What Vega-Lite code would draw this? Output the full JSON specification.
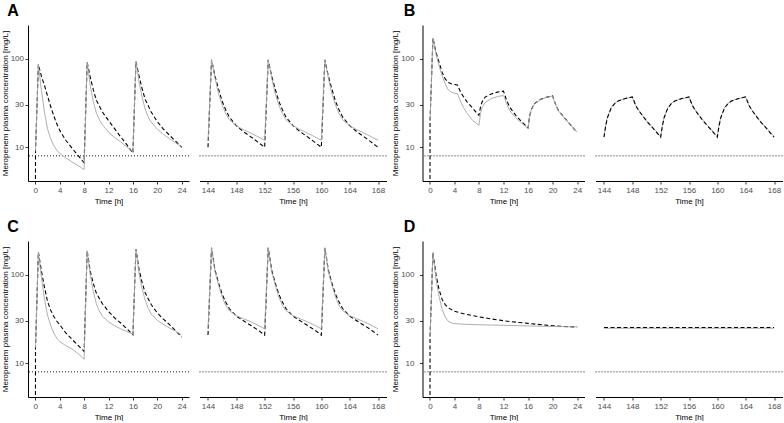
{
"$schema":"https://vega.github.io/schema/vega-lite/v6.json",
"padding":{"left":1,"top":3,"right":0,"bottom":0},
"background":"#ffffff",
"config":{
 "view":{"stroke":null},
 "axis":{"grid":false,"domainColor":"#000000","domainWidth":1,"tickColor":"#333333","tickWidth":1,"tickSize":3,"labelColor":"#4d4d4d","labelFont":"Liberation Sans","labelFontSize":8,"labelPadding":2,"titleFont":"Liberation Sans","titleFontSize":8,"titleFontWeight":"normal","titleColor":"#000000","titlePadding":3},
 "title":{"font":"Liberation Sans","fontSize":16,"fontWeight":"bold","color":"#000000","anchor":"start","frame":"bounds","offset":6}
},
"datasets":{
 "mic":[{"mic":8}],
 "pk":[
{"panel":"A","series":"grey","time":0.03,"conc":9},{"panel":"A","series":"grey","time":0.5,"conc":86},{"panel":"A","series":"grey","time":1,"conc":44},{"panel":"A","series":"grey","time":1.5,"conc":25},{"panel":"A","series":"grey","time":2,"conc":16.2},{"panel":"A","series":"grey","time":2.5,"conc":12.6},{"panel":"A","series":"grey","time":3,"conc":10.5},{"panel":"A","series":"grey","time":3.5,"conc":9.3},{"panel":"A","series":"grey","time":4,"conc":8.5},{"panel":"A","series":"grey","time":5,"conc":7.6},{"panel":"A","series":"grey","time":6,"conc":6.85},{"panel":"A","series":"grey","time":7,"conc":6.2},{"panel":"A","series":"grey","time":8,"conc":5.6},
{"panel":"A","series":"grey","time":8.5,"conc":91},{"panel":"A","series":"grey","time":9,"conc":50},{"panel":"A","series":"grey","time":9.5,"conc":33},{"panel":"A","series":"grey","time":10,"conc":24.5},{"panel":"A","series":"grey","time":10.5,"conc":20.5},{"panel":"A","series":"grey","time":11,"conc":18},{"panel":"A","series":"grey","time":12,"conc":14.8},{"panel":"A","series":"grey","time":13,"conc":12.9},{"panel":"A","series":"grey","time":14,"conc":11.5},{"panel":"A","series":"grey","time":15,"conc":10.1},{"panel":"A","series":"grey","time":16,"conc":8.9},
{"panel":"A","series":"grey","time":16.5,"conc":93},{"panel":"A","series":"grey","time":17,"conc":55},{"panel":"A","series":"grey","time":17.5,"conc":37},{"panel":"A","series":"grey","time":18,"conc":27},{"panel":"A","series":"grey","time":18.5,"conc":22},{"panel":"A","series":"grey","time":19,"conc":19.2},{"panel":"A","series":"grey","time":20,"conc":16},{"panel":"A","series":"grey","time":21,"conc":14},{"panel":"A","series":"grey","time":22,"conc":12.5},{"panel":"A","series":"grey","time":23,"conc":11.2},{"panel":"A","series":"grey","time":24,"conc":10.1},
{"panel":"A","series":"dashed","time":0,"conc":0.01},{"panel":"A","series":"dashed","time":0.03,"conc":9},{"panel":"A","series":"dashed","time":0.5,"conc":86},{"panel":"A","series":"dashed","time":1,"conc":63},{"panel":"A","series":"dashed","time":1.5,"conc":50},{"panel":"A","series":"dashed","time":2,"conc":38},{"panel":"A","series":"dashed","time":2.5,"conc":29},{"panel":"A","series":"dashed","time":3,"conc":23},{"panel":"A","series":"dashed","time":3.5,"conc":18.5},{"panel":"A","series":"dashed","time":4,"conc":15.5},{"panel":"A","series":"dashed","time":5,"conc":12},{"panel":"A","series":"dashed","time":6,"conc":9.8},{"panel":"A","series":"dashed","time":7,"conc":8.1},{"panel":"A","series":"dashed","time":8,"conc":6.7},
{"panel":"A","series":"dashed","time":8.5,"conc":91},{"panel":"A","series":"dashed","time":9,"conc":62},{"panel":"A","series":"dashed","time":9.5,"conc":45},{"panel":"A","series":"dashed","time":10,"conc":34},{"panel":"A","series":"dashed","time":11,"conc":25},{"panel":"A","series":"dashed","time":12,"conc":20},{"panel":"A","series":"dashed","time":13,"conc":16.2},{"panel":"A","series":"dashed","time":14,"conc":13.1},{"panel":"A","series":"dashed","time":15,"conc":10.7},{"panel":"A","series":"dashed","time":16,"conc":8.6},
{"panel":"A","series":"dashed","time":16.5,"conc":93},{"panel":"A","series":"dashed","time":17,"conc":64},{"panel":"A","series":"dashed","time":17.5,"conc":46},{"panel":"A","series":"dashed","time":18,"conc":35},{"panel":"A","series":"dashed","time":19,"conc":25},{"panel":"A","series":"dashed","time":20,"conc":19.5},{"panel":"A","series":"dashed","time":21,"conc":16},{"panel":"A","series":"dashed","time":22,"conc":13.7},{"panel":"A","series":"dashed","time":23,"conc":11.7},{"panel":"A","series":"dashed","time":24,"conc":10},
{"panel":"A","series":"grey","time":144,"conc":11.8},{"panel":"A","series":"grey","time":144.5,"conc":97},{"panel":"A","series":"grey","time":145,"conc":60},{"panel":"A","series":"grey","time":145.5,"conc":40},{"panel":"A","series":"grey","time":146,"conc":30},{"panel":"A","series":"grey","time":146.5,"conc":24},{"panel":"A","series":"grey","time":147,"conc":20.5},{"panel":"A","series":"grey","time":148,"conc":17.5},{"panel":"A","series":"grey","time":149,"conc":15.8},{"panel":"A","series":"grey","time":150,"conc":14.5},{"panel":"A","series":"grey","time":151,"conc":13.2},{"panel":"A","series":"grey","time":152,"conc":12},
{"panel":"A","series":"grey","time":152.5,"conc":97},{"panel":"A","series":"grey","time":153,"conc":60},{"panel":"A","series":"grey","time":153.5,"conc":40},{"panel":"A","series":"grey","time":154,"conc":30},{"panel":"A","series":"grey","time":154.5,"conc":24},{"panel":"A","series":"grey","time":155,"conc":20.5},{"panel":"A","series":"grey","time":156,"conc":17.5},{"panel":"A","series":"grey","time":157,"conc":15.8},{"panel":"A","series":"grey","time":158,"conc":14.5},{"panel":"A","series":"grey","time":159,"conc":13.2},{"panel":"A","series":"grey","time":160,"conc":12},
{"panel":"A","series":"grey","time":160.5,"conc":97},{"panel":"A","series":"grey","time":161,"conc":60},{"panel":"A","series":"grey","time":161.5,"conc":40},{"panel":"A","series":"grey","time":162,"conc":30},{"panel":"A","series":"grey","time":162.5,"conc":24},{"panel":"A","series":"grey","time":163,"conc":20.5},{"panel":"A","series":"grey","time":164,"conc":17.5},{"panel":"A","series":"grey","time":165,"conc":15.8},{"panel":"A","series":"grey","time":166,"conc":14.5},{"panel":"A","series":"grey","time":167,"conc":13.2},{"panel":"A","series":"grey","time":168,"conc":12},
{"panel":"A","series":"dashed","time":144,"conc":10},{"panel":"A","series":"dashed","time":144.5,"conc":97},{"panel":"A","series":"dashed","time":145,"conc":63},{"panel":"A","series":"dashed","time":145.5,"conc":45},{"panel":"A","series":"dashed","time":146,"conc":33},{"panel":"A","series":"dashed","time":146.5,"conc":26.5},{"panel":"A","series":"dashed","time":147,"conc":22},{"panel":"A","series":"dashed","time":148,"conc":17.5},{"panel":"A","series":"dashed","time":149,"conc":15},{"panel":"A","series":"dashed","time":150,"conc":13.2},{"panel":"A","series":"dashed","time":151,"conc":11.5},{"panel":"A","series":"dashed","time":152,"conc":10},
{"panel":"A","series":"dashed","time":152.5,"conc":97},{"panel":"A","series":"dashed","time":153,"conc":63},{"panel":"A","series":"dashed","time":153.5,"conc":45},{"panel":"A","series":"dashed","time":154,"conc":33},{"panel":"A","series":"dashed","time":154.5,"conc":26.5},{"panel":"A","series":"dashed","time":155,"conc":22},{"panel":"A","series":"dashed","time":156,"conc":17.5},{"panel":"A","series":"dashed","time":157,"conc":15},{"panel":"A","series":"dashed","time":158,"conc":13.2},{"panel":"A","series":"dashed","time":159,"conc":11.5},{"panel":"A","series":"dashed","time":160,"conc":10},
{"panel":"A","series":"dashed","time":160.5,"conc":97},{"panel":"A","series":"dashed","time":161,"conc":63},{"panel":"A","series":"dashed","time":161.5,"conc":45},{"panel":"A","series":"dashed","time":162,"conc":33},{"panel":"A","series":"dashed","time":162.5,"conc":26.5},{"panel":"A","series":"dashed","time":163,"conc":22},{"panel":"A","series":"dashed","time":164,"conc":17.5},{"panel":"A","series":"dashed","time":165,"conc":15},{"panel":"A","series":"dashed","time":166,"conc":13.2},{"panel":"A","series":"dashed","time":167,"conc":11.5},{"panel":"A","series":"dashed","time":168,"conc":10},

{"panel":"B","series":"grey","time":0.03,"conc":20},{"panel":"B","series":"grey","time":0.5,"conc":171},{"panel":"B","series":"grey","time":1,"conc":113},{"panel":"B","series":"grey","time":1.5,"conc":83},{"panel":"B","series":"grey","time":2,"conc":64},{"panel":"B","series":"grey","time":2.5,"conc":52},{"panel":"B","series":"grey","time":3,"conc":44.5},{"panel":"B","series":"grey","time":3.5,"conc":41.9},{"panel":"B","series":"grey","time":4,"conc":40.8},{"panel":"B","series":"grey","time":4.5,"conc":40.5},{"panel":"B","series":"grey","time":5,"conc":33},{"panel":"B","series":"grey","time":5.5,"conc":28},{"panel":"B","series":"grey","time":6,"conc":24.5},{"panel":"B","series":"grey","time":7,"conc":20},{"panel":"B","series":"grey","time":8,"conc":17.7},
{"panel":"B","series":"grey","time":8.25,"conc":24},{"panel":"B","series":"grey","time":8.5,"conc":28},{"panel":"B","series":"grey","time":9,"conc":32},{"panel":"B","series":"grey","time":10,"conc":35.5},{"panel":"B","series":"grey","time":11,"conc":37.3},{"panel":"B","series":"grey","time":12,"conc":38.5},{"panel":"B","series":"grey","time":12.5,"conc":31},{"panel":"B","series":"grey","time":13,"conc":26},{"panel":"B","series":"grey","time":14,"conc":21.5},{"panel":"B","series":"grey","time":15,"conc":18.6},{"panel":"B","series":"grey","time":16,"conc":16.2},
{"panel":"B","series":"grey","time":16.25,"conc":22},{"panel":"B","series":"grey","time":16.5,"conc":26},{"panel":"B","series":"grey","time":17,"conc":30.5},{"panel":"B","series":"grey","time":18,"conc":34.5},{"panel":"B","series":"grey","time":19,"conc":36.5},{"panel":"B","series":"grey","time":20,"conc":37.8},{"panel":"B","series":"grey","time":20.5,"conc":30},{"panel":"B","series":"grey","time":21,"conc":25.5},{"panel":"B","series":"grey","time":22,"conc":21},{"panel":"B","series":"grey","time":23,"conc":17.6},{"panel":"B","series":"grey","time":24,"conc":14.8},
{"panel":"B","series":"dashed","time":0,"conc":0.01},{"panel":"B","series":"dashed","time":0.03,"conc":20},{"panel":"B","series":"dashed","time":0.5,"conc":171},{"panel":"B","series":"dashed","time":1,"conc":118},{"panel":"B","series":"dashed","time":1.5,"conc":91},{"panel":"B","series":"dashed","time":2,"conc":70},{"panel":"B","series":"dashed","time":2.5,"conc":59},{"panel":"B","series":"dashed","time":3,"conc":54},{"panel":"B","series":"dashed","time":3.5,"conc":52},{"panel":"B","series":"dashed","time":4,"conc":51},{"panel":"B","series":"dashed","time":4.5,"conc":50.5},{"panel":"B","series":"dashed","time":5,"conc":42},{"panel":"B","series":"dashed","time":5.5,"conc":37},{"panel":"B","series":"dashed","time":6,"conc":33},{"panel":"B","series":"dashed","time":7,"conc":27.5},{"panel":"B","series":"dashed","time":8,"conc":22.9},
{"panel":"B","series":"dashed","time":8.25,"conc":28.5},{"panel":"B","series":"dashed","time":8.5,"conc":32.4},{"panel":"B","series":"dashed","time":9,"conc":36.8},{"panel":"B","series":"dashed","time":10,"conc":40},{"panel":"B","series":"dashed","time":11,"conc":41.9},{"panel":"B","series":"dashed","time":12,"conc":43},{"panel":"B","series":"dashed","time":12.5,"conc":34},{"panel":"B","series":"dashed","time":13,"conc":28.4},{"panel":"B","series":"dashed","time":14,"conc":22.9},{"panel":"B","series":"dashed","time":15,"conc":19.3},{"panel":"B","series":"dashed","time":16,"conc":16.6},
{"panel":"B","series":"dashed","time":16.25,"conc":22.3},{"panel":"B","series":"dashed","time":16.5,"conc":26.3},{"panel":"B","series":"dashed","time":17,"conc":30.8},{"panel":"B","series":"dashed","time":18,"conc":34.7},{"panel":"B","series":"dashed","time":19,"conc":36.7},{"panel":"B","series":"dashed","time":20,"conc":38},{"panel":"B","series":"dashed","time":20.5,"conc":30.3},{"panel":"B","series":"dashed","time":21,"conc":25.7},{"panel":"B","series":"dashed","time":22,"conc":21.2},{"panel":"B","series":"dashed","time":23,"conc":17.7},{"panel":"B","series":"dashed","time":24,"conc":14.6},
{"panel":"B","series":"grey","time":144,"conc":13.3},{"panel":"B","series":"grey","time":144.25,"conc":18},{"panel":"B","series":"grey","time":144.5,"conc":22},{"panel":"B","series":"grey","time":145,"conc":27.9},{"panel":"B","series":"grey","time":145.5,"conc":31.2},{"panel":"B","series":"grey","time":146,"conc":33.4},{"panel":"B","series":"grey","time":147,"conc":35.4},{"panel":"B","series":"grey","time":148,"conc":36.8},{"panel":"B","series":"grey","time":148.5,"conc":29.5},{"panel":"B","series":"grey","time":149,"conc":25.5},{"panel":"B","series":"grey","time":150,"conc":20},{"panel":"B","series":"grey","time":151,"conc":16.3},{"panel":"B","series":"grey","time":152,"conc":13.3},
{"panel":"B","series":"grey","time":152.25,"conc":18},{"panel":"B","series":"grey","time":152.5,"conc":22},{"panel":"B","series":"grey","time":153,"conc":27.9},{"panel":"B","series":"grey","time":153.5,"conc":31.2},{"panel":"B","series":"grey","time":154,"conc":33.4},{"panel":"B","series":"grey","time":155,"conc":35.4},{"panel":"B","series":"grey","time":156,"conc":36.8},{"panel":"B","series":"grey","time":156.5,"conc":29.5},{"panel":"B","series":"grey","time":157,"conc":25.5},{"panel":"B","series":"grey","time":158,"conc":20},{"panel":"B","series":"grey","time":159,"conc":16.3},{"panel":"B","series":"grey","time":160,"conc":13.3},
{"panel":"B","series":"grey","time":160.25,"conc":18},{"panel":"B","series":"grey","time":160.5,"conc":22},{"panel":"B","series":"grey","time":161,"conc":27.9},{"panel":"B","series":"grey","time":161.5,"conc":31.2},{"panel":"B","series":"grey","time":162,"conc":33.4},{"panel":"B","series":"grey","time":163,"conc":35.4},{"panel":"B","series":"grey","time":164,"conc":36.8},{"panel":"B","series":"grey","time":164.5,"conc":29.5},{"panel":"B","series":"grey","time":165,"conc":25.5},{"panel":"B","series":"grey","time":166,"conc":20},{"panel":"B","series":"grey","time":167,"conc":16.3},{"panel":"B","series":"grey","time":168,"conc":13.3},
{"panel":"B","series":"dashed","time":144,"conc":13},{"panel":"B","series":"dashed","time":144.25,"conc":17.6},{"panel":"B","series":"dashed","time":144.5,"conc":21.7},{"panel":"B","series":"dashed","time":145,"conc":27.6},{"panel":"B","series":"dashed","time":145.5,"conc":31},{"panel":"B","series":"dashed","time":146,"conc":33.3},{"panel":"B","series":"dashed","time":147,"conc":35.5},{"panel":"B","series":"dashed","time":148,"conc":37},{"panel":"B","series":"dashed","time":148.5,"conc":29.3},{"panel":"B","series":"dashed","time":149,"conc":25.3},{"panel":"B","series":"dashed","time":150,"conc":19.8},{"panel":"B","series":"dashed","time":151,"conc":16.1},{"panel":"B","series":"dashed","time":152,"conc":13},
{"panel":"B","series":"dashed","time":152.25,"conc":17.6},{"panel":"B","series":"dashed","time":152.5,"conc":21.7},{"panel":"B","series":"dashed","time":153,"conc":27.6},{"panel":"B","series":"dashed","time":153.5,"conc":31},{"panel":"B","series":"dashed","time":154,"conc":33.3},{"panel":"B","series":"dashed","time":155,"conc":35.5},{"panel":"B","series":"dashed","time":156,"conc":37},{"panel":"B","series":"dashed","time":156.5,"conc":29.3},{"panel":"B","series":"dashed","time":157,"conc":25.3},{"panel":"B","series":"dashed","time":158,"conc":19.8},{"panel":"B","series":"dashed","time":159,"conc":16.1},{"panel":"B","series":"dashed","time":160,"conc":13},
{"panel":"B","series":"dashed","time":160.25,"conc":17.6},{"panel":"B","series":"dashed","time":160.5,"conc":21.7},{"panel":"B","series":"dashed","time":161,"conc":27.6},{"panel":"B","series":"dashed","time":161.5,"conc":31},{"panel":"B","series":"dashed","time":162,"conc":33.3},{"panel":"B","series":"dashed","time":163,"conc":35.5},{"panel":"B","series":"dashed","time":164,"conc":37},{"panel":"B","series":"dashed","time":164.5,"conc":29.3},{"panel":"B","series":"dashed","time":165,"conc":25.3},{"panel":"B","series":"dashed","time":166,"conc":19.8},{"panel":"B","series":"dashed","time":167,"conc":16.1},{"panel":"B","series":"dashed","time":168,"conc":13},

{"panel":"C","series":"grey","time":0.03,"conc":15},{"panel":"C","series":"grey","time":0.5,"conc":180},{"panel":"C","series":"grey","time":1,"conc":93},{"panel":"C","series":"grey","time":1.5,"conc":53},{"panel":"C","series":"grey","time":2,"conc":35},{"panel":"C","series":"grey","time":2.5,"conc":27},{"panel":"C","series":"grey","time":3,"conc":22},{"panel":"C","series":"grey","time":3.5,"conc":19.3},{"panel":"C","series":"grey","time":4,"conc":17.6},{"panel":"C","series":"grey","time":5,"conc":15.8},{"panel":"C","series":"grey","time":6,"conc":14.5},{"panel":"C","series":"grey","time":7,"conc":12.9},{"panel":"C","series":"grey","time":8,"conc":11.1},
{"panel":"C","series":"grey","time":8.5,"conc":186},{"panel":"C","series":"grey","time":9,"conc":100},{"panel":"C","series":"grey","time":9.5,"conc":65},{"panel":"C","series":"grey","time":10,"conc":47},{"panel":"C","series":"grey","time":10.5,"conc":39},{"panel":"C","series":"grey","time":11,"conc":34},{"panel":"C","series":"grey","time":12,"conc":29.3},{"panel":"C","series":"grey","time":13,"conc":26.5},{"panel":"C","series":"grey","time":14,"conc":24.5},{"panel":"C","series":"grey","time":15,"conc":22.8},{"panel":"C","series":"grey","time":16,"conc":21.3},
{"panel":"C","series":"grey","time":16.5,"conc":194},{"panel":"C","series":"grey","time":17,"conc":104},{"panel":"C","series":"grey","time":17.5,"conc":70},{"panel":"C","series":"grey","time":18,"conc":52},{"panel":"C","series":"grey","time":18.5,"conc":42},{"panel":"C","series":"grey","time":19,"conc":36},{"panel":"C","series":"grey","time":20,"conc":30.5},{"panel":"C","series":"grey","time":21,"conc":27.5},{"panel":"C","series":"grey","time":22,"conc":25},{"panel":"C","series":"grey","time":23,"conc":23},{"panel":"C","series":"grey","time":24,"conc":20.8},
{"panel":"C","series":"dashed","time":0,"conc":0.01},{"panel":"C","series":"dashed","time":0.03,"conc":15},{"panel":"C","series":"dashed","time":0.5,"conc":180},{"panel":"C","series":"dashed","time":1,"conc":110},{"panel":"C","series":"dashed","time":1.5,"conc":72},{"panel":"C","series":"dashed","time":2,"conc":50},{"panel":"C","series":"dashed","time":2.5,"conc":40},{"panel":"C","series":"dashed","time":3,"conc":34},{"panel":"C","series":"dashed","time":3.5,"conc":30},{"panel":"C","series":"dashed","time":4,"conc":27.3},{"panel":"C","series":"dashed","time":5,"conc":22},{"panel":"C","series":"dashed","time":6,"conc":18.7},{"panel":"C","series":"dashed","time":7,"conc":15.9},{"panel":"C","series":"dashed","time":8,"conc":13.6},
{"panel":"C","series":"dashed","time":8.5,"conc":186},{"panel":"C","series":"dashed","time":9,"conc":110},{"panel":"C","series":"dashed","time":9.5,"conc":80},{"panel":"C","series":"dashed","time":10,"conc":62},{"panel":"C","series":"dashed","time":11,"conc":47},{"panel":"C","series":"dashed","time":12,"conc":38.5},{"panel":"C","series":"dashed","time":13,"conc":32.5},{"panel":"C","series":"dashed","time":14,"conc":28.5},{"panel":"C","series":"dashed","time":15,"conc":24.6},{"panel":"C","series":"dashed","time":16,"conc":21},
{"panel":"C","series":"dashed","time":16.5,"conc":194},{"panel":"C","series":"dashed","time":17,"conc":115},{"panel":"C","series":"dashed","time":17.5,"conc":82},{"panel":"C","series":"dashed","time":18,"conc":63},{"panel":"C","series":"dashed","time":19,"conc":46},{"panel":"C","series":"dashed","time":20,"conc":37},{"panel":"C","series":"dashed","time":21,"conc":31.5},{"panel":"C","series":"dashed","time":22,"conc":27.3},{"panel":"C","series":"dashed","time":23,"conc":23.3},{"panel":"C","series":"dashed","time":24,"conc":19.7},
{"panel":"C","series":"grey","time":144,"conc":24.5},{"panel":"C","series":"grey","time":144.5,"conc":201},{"panel":"C","series":"grey","time":145,"conc":107},{"panel":"C","series":"grey","time":145.5,"conc":76},{"panel":"C","series":"grey","time":146,"conc":56},{"panel":"C","series":"grey","time":146.5,"conc":45},{"panel":"C","series":"grey","time":147,"conc":39.3},{"panel":"C","series":"grey","time":148,"conc":34.5},{"panel":"C","series":"grey","time":149,"conc":31.8},{"panel":"C","series":"grey","time":150,"conc":29.5},{"panel":"C","series":"grey","time":151,"conc":27},{"panel":"C","series":"grey","time":152,"conc":24.5},
{"panel":"C","series":"grey","time":152.5,"conc":201},{"panel":"C","series":"grey","time":153,"conc":107},{"panel":"C","series":"grey","time":153.5,"conc":76},{"panel":"C","series":"grey","time":154,"conc":56},{"panel":"C","series":"grey","time":154.5,"conc":45},{"panel":"C","series":"grey","time":155,"conc":39.3},{"panel":"C","series":"grey","time":156,"conc":34.5},{"panel":"C","series":"grey","time":157,"conc":31.8},{"panel":"C","series":"grey","time":158,"conc":29.5},{"panel":"C","series":"grey","time":159,"conc":27},{"panel":"C","series":"grey","time":160,"conc":24.5},
{"panel":"C","series":"grey","time":160.5,"conc":201},{"panel":"C","series":"grey","time":161,"conc":107},{"panel":"C","series":"grey","time":161.5,"conc":76},{"panel":"C","series":"grey","time":162,"conc":56},{"panel":"C","series":"grey","time":162.5,"conc":45},{"panel":"C","series":"grey","time":163,"conc":39.3},{"panel":"C","series":"grey","time":164,"conc":34.5},{"panel":"C","series":"grey","time":165,"conc":31.8},{"panel":"C","series":"grey","time":166,"conc":29.5},{"panel":"C","series":"grey","time":167,"conc":27},{"panel":"C","series":"grey","time":168,"conc":24.5},
{"panel":"C","series":"dashed","time":144,"conc":20.8},{"panel":"C","series":"dashed","time":144.5,"conc":201},{"panel":"C","series":"dashed","time":145,"conc":112},{"panel":"C","series":"dashed","time":145.5,"conc":80},{"panel":"C","series":"dashed","time":146,"conc":60},{"panel":"C","series":"dashed","time":146.5,"conc":49},{"panel":"C","series":"dashed","time":147,"conc":41.5},{"panel":"C","series":"dashed","time":148,"conc":34},{"panel":"C","series":"dashed","time":149,"conc":30.2},{"panel":"C","series":"dashed","time":150,"conc":26.9},{"panel":"C","series":"dashed","time":151,"conc":23.9},{"panel":"C","series":"dashed","time":152,"conc":20.8},
{"panel":"C","series":"dashed","time":152.5,"conc":201},{"panel":"C","series":"dashed","time":153,"conc":112},{"panel":"C","series":"dashed","time":153.5,"conc":80},{"panel":"C","series":"dashed","time":154,"conc":60},{"panel":"C","series":"dashed","time":154.5,"conc":49},{"panel":"C","series":"dashed","time":155,"conc":41.5},{"panel":"C","series":"dashed","time":156,"conc":34},{"panel":"C","series":"dashed","time":157,"conc":30.2},{"panel":"C","series":"dashed","time":158,"conc":26.9},{"panel":"C","series":"dashed","time":159,"conc":23.9},{"panel":"C","series":"dashed","time":160,"conc":20.8},
{"panel":"C","series":"dashed","time":160.5,"conc":201},{"panel":"C","series":"dashed","time":161,"conc":112},{"panel":"C","series":"dashed","time":161.5,"conc":80},{"panel":"C","series":"dashed","time":162,"conc":60},{"panel":"C","series":"dashed","time":162.5,"conc":49},{"panel":"C","series":"dashed","time":163,"conc":41.5},{"panel":"C","series":"dashed","time":164,"conc":34},{"panel":"C","series":"dashed","time":165,"conc":30.2},{"panel":"C","series":"dashed","time":166,"conc":26.9},{"panel":"C","series":"dashed","time":167,"conc":23.9},{"panel":"C","series":"dashed","time":168,"conc":20.8},

{"panel":"D","series":"grey","time":0.03,"conc":20},{"panel":"D","series":"grey","time":0.5,"conc":178},{"panel":"D","series":"grey","time":1,"conc":88.5},{"panel":"D","series":"grey","time":1.5,"conc":57},{"panel":"D","series":"grey","time":2,"conc":40.4},{"panel":"D","series":"grey","time":2.5,"conc":33.4},{"panel":"D","series":"grey","time":3,"conc":29.7},{"panel":"D","series":"grey","time":3.5,"conc":28.6},{"panel":"D","series":"grey","time":4,"conc":28},{"panel":"D","series":"grey","time":6,"conc":27.5},{"panel":"D","series":"grey","time":8,"conc":27.2},{"panel":"D","series":"grey","time":12,"conc":26.8},{"panel":"D","series":"grey","time":16,"conc":26.4},{"panel":"D","series":"grey","time":20,"conc":26},{"panel":"D","series":"grey","time":24,"conc":25.7},
{"panel":"D","series":"dashed","time":0,"conc":0.01},{"panel":"D","series":"dashed","time":0.03,"conc":20},{"panel":"D","series":"dashed","time":0.5,"conc":178},{"panel":"D","series":"dashed","time":1,"conc":100},{"panel":"D","series":"dashed","time":1.5,"conc":68},{"panel":"D","series":"dashed","time":2,"conc":52.5},{"panel":"D","series":"dashed","time":2.5,"conc":46},{"panel":"D","series":"dashed","time":3,"conc":42.2},{"panel":"D","series":"dashed","time":4,"conc":38.6},{"panel":"D","series":"dashed","time":5,"conc":37},{"panel":"D","series":"dashed","time":6,"conc":35.5},{"panel":"D","series":"dashed","time":8,"conc":33.4},{"panel":"D","series":"dashed","time":10,"conc":31.7},{"panel":"D","series":"dashed","time":12,"conc":30.2},{"panel":"D","series":"dashed","time":14,"conc":29.1},{"panel":"D","series":"dashed","time":16,"conc":28.2},{"panel":"D","series":"dashed","time":18,"conc":27.3},{"panel":"D","series":"dashed","time":20,"conc":26.5},{"panel":"D","series":"dashed","time":22,"conc":26},{"panel":"D","series":"dashed","time":24,"conc":25.7},
{"panel":"D","series":"grey","time":144,"conc":24.8},{"panel":"D","series":"grey","time":168,"conc":24.8},
{"panel":"D","series":"dashed","time":144,"conc":25.3},{"panel":"D","series":"dashed","time":168,"conc":25.3}
 ]
},
"vconcat":[
 {"hconcat":[
  {"title":{"text":"A","dx":6},"spacing":8.5,"hconcat":[
   {"width":161,"height":156,"layer":[
    {"data":{"name":"mic"},"mark":{"type":"rule","color":"#000000","strokeWidth":0.9,"strokeDash":[1,2]},"encoding":{"y":{"field":"mic","type":"quantitative","scale":{"type":"log","domain":[4.16,240],"nice":false},"axis":{"values":[10,30,100],"format":"d","title":"Meropenem plasma concentration [mg/L]","labelPadding":1.5,"titlePadding":1}}}},
    {"data":{"name":"pk"},"transform":[{"filter":"datum.panel==='A' && datum.series==='dashed' && datum.time<=24"}],"mark":{"type":"line","color":"#000000","strokeWidth":1.1,"strokeDash":[4,2.5],"clip":true},"encoding":{"x":{"field":"time","type":"quantitative","scale":{"domain":[-1.2,25.2],"nice":false,"zero":false},"axis":{"values":[0,4,8,12,16,20,24],"title":"Time [h]"}},"y":{"field":"conc","type":"quantitative","scale":{"type":"log","domain":[4.16,240],"nice":false},"axis":{"values":[10,30,100],"format":"d","title":"Meropenem plasma concentration [mg/L]","labelPadding":1.5,"titlePadding":1}}}},
    {"data":{"name":"pk"},"transform":[{"filter":"datum.panel==='A' && datum.series==='grey' && datum.time<=24"}],"mark":{"type":"line","color":"#a6a6a6","strokeWidth":0.9,"clip":true},"encoding":{"x":{"field":"time","type":"quantitative","scale":{"domain":[-1.2,25.2],"nice":false,"zero":false},"axis":{"values":[0,4,8,12,16,20,24],"title":"Time [h]"}},"y":{"field":"conc","type":"quantitative","scale":{"type":"log","domain":[4.16,240],"nice":false},"axis":{"values":[10,30,100],"format":"d","title":"Meropenem plasma concentration [mg/L]","labelPadding":1.5,"titlePadding":1}}}}
   ]},
   {"width":187,"height":156,"layer":[
    {"data":{"name":"mic"},"mark":{"type":"rule","color":"#000000","strokeWidth":0.9,"strokeDash":[1,2]},"encoding":{"y":{"field":"mic","type":"quantitative","scale":{"type":"log","domain":[4.16,240],"nice":false},"axis":null}}},
    {"data":{"name":"pk"},"transform":[{"filter":"datum.panel==='A' && datum.series==='dashed' && datum.time>=144"}],"mark":{"type":"line","color":"#000000","strokeWidth":1.1,"strokeDash":[4,2.5],"clip":true},"encoding":{"x":{"field":"time","type":"quantitative","scale":{"domain":[142.8,169.2],"nice":false,"zero":false},"axis":{"values":[144,148,152,156,160,164,168],"title":"Time [h]"}},"y":{"field":"conc","type":"quantitative","scale":{"type":"log","domain":[4.16,240],"nice":false},"axis":null}}},
    {"data":{"name":"pk"},"transform":[{"filter":"datum.panel==='A' && datum.series==='grey' && datum.time>=144"}],"mark":{"type":"line","color":"#a6a6a6","strokeWidth":0.9,"clip":true},"encoding":{"x":{"field":"time","type":"quantitative","scale":{"domain":[142.8,169.2],"nice":false,"zero":false},"axis":{"values":[144,148,152,156,160,164,168],"title":"Time [h]"}},"y":{"field":"conc","type":"quantitative","scale":{"type":"log","domain":[4.16,240],"nice":false},"axis":null}}}
   ]}
  ]},
  {"title":{"text":"B","dx":12},"spacing":9,"hconcat":[
   {"width":162,"height":156,"layer":[
    {"data":{"name":"mic"},"mark":{"type":"rule","color":"#000000","strokeWidth":0.9,"strokeDash":[1,2]},"encoding":{"y":{"field":"mic","type":"quantitative","scale":{"type":"log","domain":[4.16,240],"nice":false},"axis":{"values":[10,30,100],"format":"d","title":"Meropenem plasma concentration [mg/L]","labelPadding":5.5,"titlePadding":1}}}},
    {"data":{"name":"pk"},"transform":[{"filter":"datum.panel==='B' && datum.series==='dashed' && datum.time<=24"}],"mark":{"type":"line","color":"#000000","strokeWidth":1.1,"strokeDash":[4,2.5],"clip":true},"encoding":{"x":{"field":"time","type":"quantitative","scale":{"domain":[-1.2,25.2],"nice":false,"zero":false},"axis":{"values":[0,4,8,12,16,20,24],"title":"Time [h]"}},"y":{"field":"conc","type":"quantitative","scale":{"type":"log","domain":[4.16,240],"nice":false},"axis":{"values":[10,30,100],"format":"d","title":"Meropenem plasma concentration [mg/L]","labelPadding":5.5,"titlePadding":1}}}},
    {"data":{"name":"pk"},"transform":[{"filter":"datum.panel==='B' && datum.series==='grey' && datum.time<=24"}],"mark":{"type":"line","color":"#a6a6a6","strokeWidth":0.9,"clip":true},"encoding":{"x":{"field":"time","type":"quantitative","scale":{"domain":[-1.2,25.2],"nice":false,"zero":false},"axis":{"values":[0,4,8,12,16,20,24],"title":"Time [h]"}},"y":{"field":"conc","type":"quantitative","scale":{"type":"log","domain":[4.16,240],"nice":false},"axis":{"values":[10,30,100],"format":"d","title":"Meropenem plasma concentration [mg/L]","labelPadding":5.5,"titlePadding":1}}}}
   ]},
   {"width":187,"height":156,"layer":[
    {"data":{"name":"mic"},"mark":{"type":"rule","color":"#000000","strokeWidth":0.9,"strokeDash":[1,2]},"encoding":{"y":{"field":"mic","type":"quantitative","scale":{"type":"log","domain":[4.16,240],"nice":false},"axis":null}}},
    {"data":{"name":"pk"},"transform":[{"filter":"datum.panel==='B' && datum.series==='grey' && datum.time>=144"}],"mark":{"type":"line","color":"#a6a6a6","strokeWidth":0.9,"clip":true},"encoding":{"x":{"field":"time","type":"quantitative","scale":{"domain":[142.8,169.2],"nice":false,"zero":false},"axis":{"values":[144,148,152,156,160,164,168],"title":"Time [h]"}},"y":{"field":"conc","type":"quantitative","scale":{"type":"log","domain":[4.16,240],"nice":false},"axis":null}}},
    {"data":{"name":"pk"},"transform":[{"filter":"datum.panel==='B' && datum.series==='dashed' && datum.time>=144"}],"mark":{"type":"line","color":"#000000","strokeWidth":1.1,"strokeDash":[4,2.5],"clip":true},"encoding":{"x":{"field":"time","type":"quantitative","scale":{"domain":[142.8,169.2],"nice":false,"zero":false},"axis":{"values":[144,148,152,156,160,164,168],"title":"Time [h]"}},"y":{"field":"conc","type":"quantitative","scale":{"type":"log","domain":[4.16,240],"nice":false},"axis":null}}}
   ]}
  ]}
 ],"spacing":4.5},
 {"hconcat":[
  {"title":{"text":"C","dx":6},"spacing":8.5,"hconcat":[
   {"width":161,"height":156,"layer":[
    {"data":{"name":"mic"},"mark":{"type":"rule","color":"#000000","strokeWidth":0.9,"strokeDash":[1,2]},"encoding":{"y":{"field":"mic","type":"quantitative","scale":{"type":"log","domain":[4.16,240],"nice":false},"axis":{"values":[10,30,100],"format":"d","title":"Meropenem plasma concentration [mg/L]","labelPadding":1.5,"titlePadding":1}}}},
    {"data":{"name":"pk"},"transform":[{"filter":"datum.panel==='C' && datum.series==='dashed' && datum.time<=24"}],"mark":{"type":"line","color":"#000000","strokeWidth":1.1,"strokeDash":[4,2.5],"clip":true},"encoding":{"x":{"field":"time","type":"quantitative","scale":{"domain":[-1.2,25.2],"nice":false,"zero":false},"axis":{"values":[0,4,8,12,16,20,24],"title":"Time [h]"}},"y":{"field":"conc","type":"quantitative","scale":{"type":"log","domain":[4.16,240],"nice":false},"axis":{"values":[10,30,100],"format":"d","title":"Meropenem plasma concentration [mg/L]","labelPadding":1.5,"titlePadding":1}}}},
    {"data":{"name":"pk"},"transform":[{"filter":"datum.panel==='C' && datum.series==='grey' && datum.time<=24"}],"mark":{"type":"line","color":"#a6a6a6","strokeWidth":0.9,"clip":true},"encoding":{"x":{"field":"time","type":"quantitative","scale":{"domain":[-1.2,25.2],"nice":false,"zero":false},"axis":{"values":[0,4,8,12,16,20,24],"title":"Time [h]"}},"y":{"field":"conc","type":"quantitative","scale":{"type":"log","domain":[4.16,240],"nice":false},"axis":{"values":[10,30,100],"format":"d","title":"Meropenem plasma concentration [mg/L]","labelPadding":1.5,"titlePadding":1}}}}
   ]},
   {"width":187,"height":156,"layer":[
    {"data":{"name":"mic"},"mark":{"type":"rule","color":"#000000","strokeWidth":0.9,"strokeDash":[1,2]},"encoding":{"y":{"field":"mic","type":"quantitative","scale":{"type":"log","domain":[4.16,240],"nice":false},"axis":null}}},
    {"data":{"name":"pk"},"transform":[{"filter":"datum.panel==='C' && datum.series==='dashed' && datum.time>=144"}],"mark":{"type":"line","color":"#000000","strokeWidth":1.1,"strokeDash":[4,2.5],"clip":true},"encoding":{"x":{"field":"time","type":"quantitative","scale":{"domain":[142.8,169.2],"nice":false,"zero":false},"axis":{"values":[144,148,152,156,160,164,168],"title":"Time [h]"}},"y":{"field":"conc","type":"quantitative","scale":{"type":"log","domain":[4.16,240],"nice":false},"axis":null}}},
    {"data":{"name":"pk"},"transform":[{"filter":"datum.panel==='C' && datum.series==='grey' && datum.time>=144"}],"mark":{"type":"line","color":"#a6a6a6","strokeWidth":0.9,"clip":true},"encoding":{"x":{"field":"time","type":"quantitative","scale":{"domain":[142.8,169.2],"nice":false,"zero":false},"axis":{"values":[144,148,152,156,160,164,168],"title":"Time [h]"}},"y":{"field":"conc","type":"quantitative","scale":{"type":"log","domain":[4.16,240],"nice":false},"axis":null}}}
   ]}
  ]},
  {"title":{"text":"D","dx":12},"spacing":9,"hconcat":[
   {"width":162,"height":156,"layer":[
    {"data":{"name":"mic"},"mark":{"type":"rule","color":"#000000","strokeWidth":0.9,"strokeDash":[1,2]},"encoding":{"y":{"field":"mic","type":"quantitative","scale":{"type":"log","domain":[4.16,240],"nice":false},"axis":{"values":[10,30,100],"format":"d","title":"Meropenem plasma concentration [mg/L]","labelPadding":5.5,"titlePadding":1}}}},
    {"data":{"name":"pk"},"transform":[{"filter":"datum.panel==='D' && datum.series==='dashed' && datum.time<=24"}],"mark":{"type":"line","color":"#000000","strokeWidth":1.1,"strokeDash":[4,2.5],"clip":true},"encoding":{"x":{"field":"time","type":"quantitative","scale":{"domain":[-1.2,25.2],"nice":false,"zero":false},"axis":{"values":[0,4,8,12,16,20,24],"title":"Time [h]"}},"y":{"field":"conc","type":"quantitative","scale":{"type":"log","domain":[4.16,240],"nice":false},"axis":{"values":[10,30,100],"format":"d","title":"Meropenem plasma concentration [mg/L]","labelPadding":5.5,"titlePadding":1}}}},
    {"data":{"name":"pk"},"transform":[{"filter":"datum.panel==='D' && datum.series==='grey' && datum.time<=24"}],"mark":{"type":"line","color":"#a6a6a6","strokeWidth":0.9,"clip":true},"encoding":{"x":{"field":"time","type":"quantitative","scale":{"domain":[-1.2,25.2],"nice":false,"zero":false},"axis":{"values":[0,4,8,12,16,20,24],"title":"Time [h]"}},"y":{"field":"conc","type":"quantitative","scale":{"type":"log","domain":[4.16,240],"nice":false},"axis":{"values":[10,30,100],"format":"d","title":"Meropenem plasma concentration [mg/L]","labelPadding":5.5,"titlePadding":1}}}}
   ]},
   {"width":187,"height":156,"layer":[
    {"data":{"name":"mic"},"mark":{"type":"rule","color":"#000000","strokeWidth":0.9,"strokeDash":[1,2]},"encoding":{"y":{"field":"mic","type":"quantitative","scale":{"type":"log","domain":[4.16,240],"nice":false},"axis":null}}},
    {"data":{"name":"pk"},"transform":[{"filter":"datum.panel==='D' && datum.series==='grey' && datum.time>=144"}],"mark":{"type":"line","color":"#a6a6a6","strokeWidth":0.9,"clip":true},"encoding":{"x":{"field":"time","type":"quantitative","scale":{"domain":[142.8,169.2],"nice":false,"zero":false},"axis":{"values":[144,148,152,156,160,164,168],"title":"Time [h]"}},"y":{"field":"conc","type":"quantitative","scale":{"type":"log","domain":[4.16,240],"nice":false},"axis":null}}},
    {"data":{"name":"pk"},"transform":[{"filter":"datum.panel==='D' && datum.series==='dashed' && datum.time>=144"}],"mark":{"type":"line","color":"#000000","strokeWidth":1.1,"strokeDash":[4,2.5],"clip":true},"encoding":{"x":{"field":"time","type":"quantitative","scale":{"domain":[142.8,169.2],"nice":false,"zero":false},"axis":{"values":[144,148,152,156,160,164,168],"title":"Time [h]"}},"y":{"field":"conc","type":"quantitative","scale":{"type":"log","domain":[4.16,240],"nice":false},"axis":null}}}
   ]}
  ]}
 ],"spacing":4.5}
],
"spacing":14
}
